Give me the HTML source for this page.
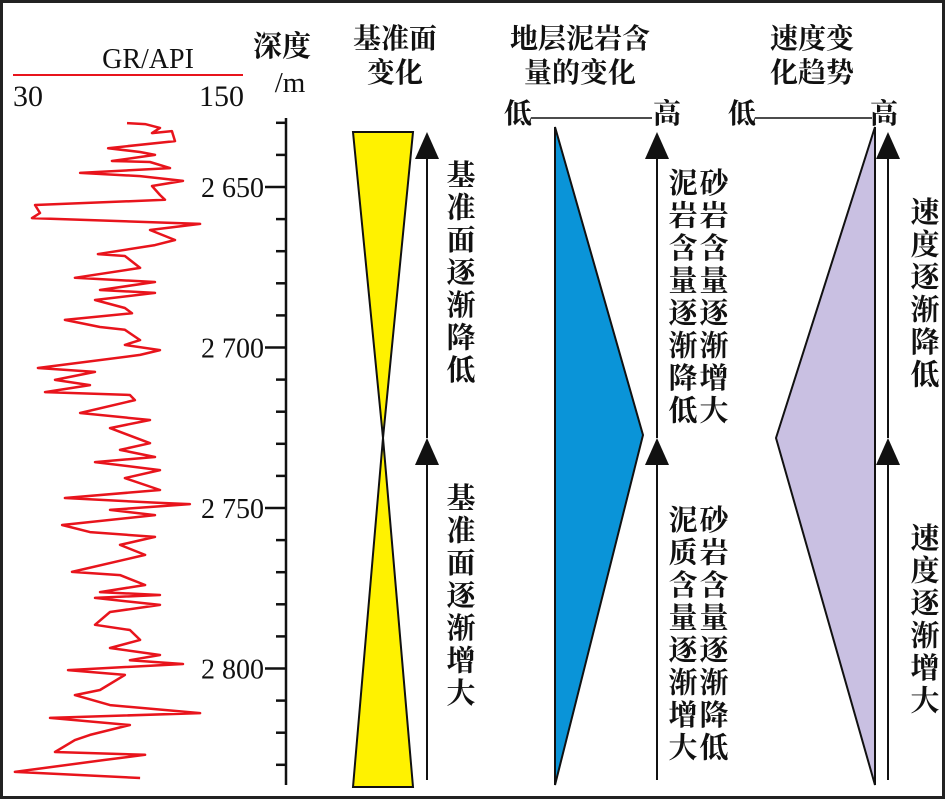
<!DOCTYPE html>
<html><head><meta charset="utf-8"><style>
html,body{margin:0;padding:0;background:#fff}
svg{display:block}
text{font-family:"Liberation Serif","Noto Serif CJK SC",serif;fill:#111}
.cj{font-family:"Liberation Serif","Noto Serif CJK SC",serif;font-weight:bold}
</style></head><body>
<svg id="chart" width="945" height="799" viewBox="0 0 945 799" xmlns="http://www.w3.org/2000/svg">
<rect x="1.5" y="1.5" width="942" height="796" fill="#fff" stroke="#222" stroke-width="3"/>
<g>
<text x="148" y="68" font-size="28" text-anchor="middle">GR/API</text>
<line x1="13" y1="75" x2="243" y2="75" stroke="#e8141c" stroke-width="2"/>
<text x="13" y="106" font-size="30">30</text>
<text x="244" y="106" font-size="30" text-anchor="end">150</text>
</g>
<g>
<text class="cj" x="282" y="56" font-size="29" text-anchor="middle">深度</text>
<text x="290" y="92" font-size="29" text-anchor="middle">/m</text>
</g>
<text class="cj" x="395" y="48" font-size="28" text-anchor="middle">基准面</text>
<text class="cj" x="395" y="82" font-size="28" text-anchor="middle">变化</text>
<text class="cj" x="580" y="48" font-size="28" text-anchor="middle">地层泥岩含</text>
<text class="cj" x="580" y="82" font-size="28" text-anchor="middle">量的变化</text>
<text class="cj" x="812" y="48" font-size="28" text-anchor="middle">速度变</text>
<text class="cj" x="812" y="82" font-size="28" text-anchor="middle">化趋势</text>
<g id="axis"></g>
<polyline id="gr" fill="none" stroke="#e8141c" stroke-width="2.5" stroke-linejoin="round"/>
<polygon points="353,132 413,132 383,438 413,787 353,787 383,438" fill="#fff200" stroke="#111" stroke-width="2"/>
<polygon points="555,127 643,435 555,785" fill="#0a94d8" stroke="#111" stroke-width="2"/>
<polygon points="875,127 776,438 875,785" fill="#c9c0e2" stroke="#111" stroke-width="2"/>
<g>
<text class="cj" x="518" y="123" font-size="28" text-anchor="middle">低</text>
<line x1="531" y1="118" x2="652" y2="118" stroke="#111" stroke-width="1.5"/>
<text class="cj" x="667" y="123" font-size="28" text-anchor="middle">高</text>
</g>
<g>
<text class="cj" x="742" y="123" font-size="28" text-anchor="middle">低</text>
<line x1="755" y1="118" x2="872" y2="118" stroke="#111" stroke-width="1.5"/>
<text class="cj" x="884" y="123" font-size="28" text-anchor="middle">高</text>
</g>
<g id="arrows"></g>
<g id="vtext"></g>
</svg>
<script>
const grDepths=[2630.1,2630.4,2631.6,2633.2,2632.6,2635.7,2637.9,2639.1,2640.0,2641.9,2642.2,2644.1,2645.6,2646.6,2648.1,2649.7,2652.5,2654.0,2655.6,2658.1,2659.7,2661.5,2663.4,2666.5,2668.1,2670.9,2671.5,2675.2,2678.3,2679.6,2682.1,2683.0,2685.2,2687.7,2689.3,2691.4,2693.6,2694.5,2697.7,2699.2,2700.8,2702.3,2706.4,2707.6,2710.1,2711.7,2713.9,2714.8,2716.4,2720.4,2722.6,2725.1,2729.8,2731.9,2734.1,2735.7,2738.2,2740.7,2744.4,2746.9,2748.4,2748.8,2750.6,2752.2,2755.3,2757.5,2759.0,2761.5,2764.6,2769.9,2770.9,2774.0,2776.2,2777.1,2778.0,2780.2,2782.4,2786.4,2788.0,2791.1,2793.6,2795.8,2797.4,2798.6,2800.5,2802.0,2806.7,2808.3,2811.4,2813.9,2815.4,2817.6,2820.7,2822.3,2826.0,2826.9,2828.5,2832.2,2834.1];
const grValues=[89.5,98.9,106.7,102.5,112.9,114.5,79.6,96.3,104.1,81.6,101.5,111.9,65.0,96.3,118.7,102.5,106.7,109.3,41.5,44.1,39.9,127.6,101.5,114.5,104.1,74.3,88.4,96.3,62.3,104.1,75.4,104.1,72.8,88.4,92.1,57.1,75.4,88.4,96.3,88.4,106.7,96.3,43.0,72.8,51.9,70.2,46.7,91.0,93.6,65.0,101.5,80.6,101.5,85.8,104.1,72.8,106.7,88.4,106.7,57.1,106.7,122.3,80.6,104.1,55.6,70.2,104.1,85.8,98.9,60.8,85.8,98.9,75.4,106.7,72.8,106.7,80.6,72.8,91.0,96.3,80.6,106.7,91.0,118.7,58.7,88.4,75.4,62.3,80.6,127.6,49.3,91.0,70.2,62.3,51.9,98.9,77.6,31.0,96.3];
const majorTicks=[2650,2700,2750,2800];
const tickLabels=["2 650","2 700","2 750","2 800"];
const minorStart=2630, minorEnd=2830, minorStep=10;
const ns="http://www.w3.org/2000/svg";
const yOf=d=>187+(d-2650)*3.21;
const xOf=v=>13+(v-30)*230/120;
function mk(tag,attrs,parent){const e=document.createElementNS(ns,tag);for(const k in attrs)e.setAttribute(k,attrs[k]);parent.appendChild(e);return e;}
const axis=document.getElementById('axis');
const al=mk('line',{x1:286,y1:118,x2:286,y2:785,stroke:'#111','stroke-width':2.5},axis);


for(let d=minorStart;d<=minorEnd;d+=minorStep){
  const major=majorTicks.includes(d);
  const t=mk('line',{x1:major?265:276,x2:286,y1:yOf(d),y2:yOf(d),stroke:'#111','stroke-width':2.5},axis);
  
  
}
majorTicks.forEach((d,i)=>{
  const t=mk('text',{x:264,y:yOf(d)+10,'font-size':28,'text-anchor':'end'},axis);
  t.textContent=tickLabels[i];
  
  
});
document.getElementById('gr').setAttribute('points',grDepths.map((d,i)=>xOf(grValues[i]).toFixed(1)+','+yOf(d).toFixed(1)).join(' '));
const arrows=document.getElementById('arrows');
[[427,438,132],[427,780,438],[657,438,132],[657,780,438],[888,438,132],[888,780,438]].forEach(a=>{
  const [x,y1,y2]=a;
  const l=mk('line',{x1:x,y1:y1,x2:x,y2:y2+20,stroke:'#111','stroke-width':2},arrows);
  
  
  const p=mk('polygon',{points:`${x},${y2} ${x-12},${y2+27} ${x+12},${y2+27}`,fill:'#111'},arrows);
  
  
});
const vt=document.getElementById('vtext');
[["基准面逐渐降低",461,185],["基准面逐渐增大",461,508],["泥岩含量逐渐降低",683,193],["砂岩含量逐渐增大",714,193],["泥质含量逐渐增大",683,530],["砂岩含量逐渐降低",714,530],["速度逐渐降低",925,222],["速度逐渐增大",925,548]].forEach(s=>{
  const [str,x,y]=s;
  [...str].forEach((c,i)=>{
    const t=mk('text',{x:x,y:y+i*32.5,'font-size':29,'text-anchor':'middle',class:'cj'},vt);
    t.textContent=c;
    
    
  });
});
</script>
</body></html>
